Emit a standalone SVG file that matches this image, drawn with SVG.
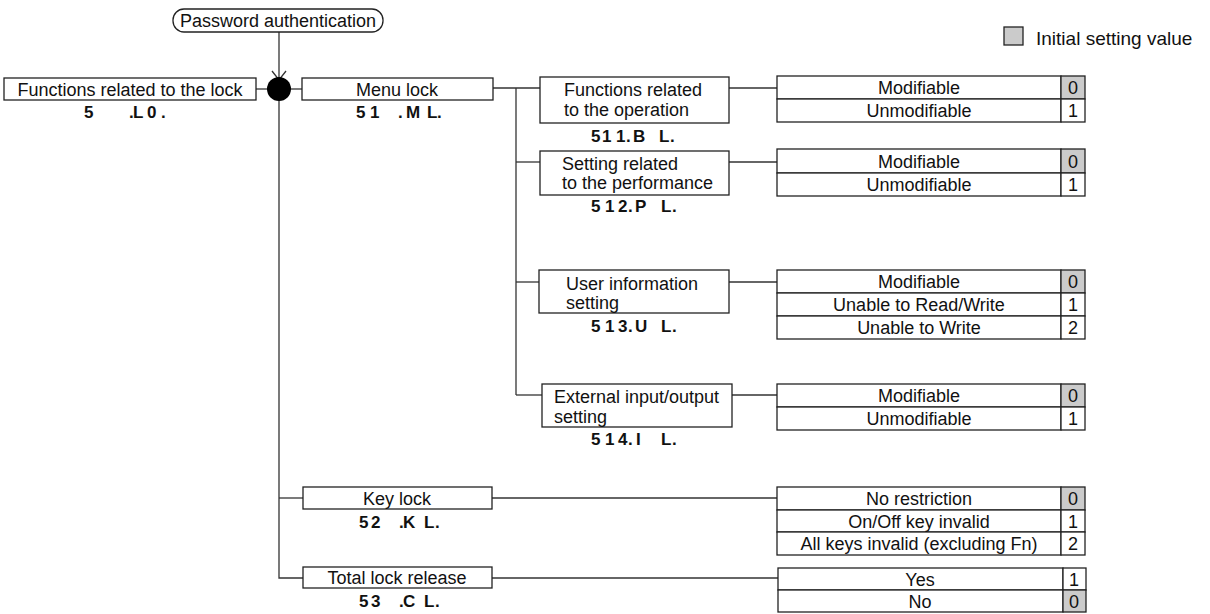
<svg xmlns="http://www.w3.org/2000/svg" width="1210" height="614" viewBox="0 0 1210 614">
<defs>
<style>
.bx{fill:#fff;stroke:#222;stroke-width:1.3}
.ln{fill:none;stroke:#333;stroke-width:1.3}
.t{font-family:"Liberation Sans",Arial,sans-serif;font-size:18px;fill:#111}
.c{text-anchor:middle}
.cd{font-family:"Liberation Sans",Arial,sans-serif;font-size:17px;font-weight:bold;fill:#111}
.g{fill:#cbcbcb;stroke:#222;stroke-width:1.3}
</style>
</defs>
<rect width="1210" height="614" fill="#fff"/>

<g id="connectors">
<line class="ln" x1="279" y1="32" x2="279" y2="80"/>
<polyline class="ln" points="272,71 279,80 286,71"/>
<line class="ln" x1="256" y1="89" x2="268" y2="89"/>
<line class="ln" x1="290" y1="89" x2="302" y2="89"/>
<polyline class="ln" points="279,100 279,578 303,578"/>
<line class="ln" x1="279" y1="498" x2="303" y2="498"/>
<line class="ln" x1="493" y1="88" x2="540" y2="88"/>
<line class="ln" x1="516" y1="88" x2="516" y2="395"/>
<line class="ln" x1="516" y1="162" x2="540" y2="162"/>
<line class="ln" x1="516" y1="282" x2="539" y2="282"/>
<line class="ln" x1="516" y1="395" x2="542" y2="395"/>
<line class="ln" x1="729" y1="88" x2="777" y2="88"/>
<line class="ln" x1="729" y1="162" x2="777" y2="162"/>
<line class="ln" x1="729" y1="282" x2="777" y2="282"/>
<line class="ln" x1="732" y1="395" x2="777" y2="395"/>
<line class="ln" x1="492" y1="498" x2="777" y2="498"/>
<line class="ln" x1="492" y1="578" x2="778" y2="578"/>
</g>

<g id="password">
<rect class="bx" x="173" y="9" width="210" height="23" rx="11"/>
<text class="t c" x="278" y="27">Password authentication</text>
</g>

<g id="junction">
<circle cx="279" cy="89" r="12" fill="#000"/>
</g>

<g id="root">
<rect class="bx" x="4" y="78" width="252" height="22"/>
<text class="t c" x="130" y="96">Functions related to the lock</text>
<text class="cd" x="84 100 129 133 145 147 161" y="118">5 .L 0.</text>
</g>

<g id="menu-lock">
<rect class="bx" x="302" y="78" width="191" height="22"/>
<text class="t c" x="397" y="96">Menu lock</text>
<text class="cd" x="356 366 370 385 398 406 420 427 437" y="118">5 1 .M L.</text>
</g>

<g id="op">
<rect class="bx" x="540" y="77" width="189" height="46"/>
<text class="t" x="564" y="96">Functions related</text>
<text class="t" x="564" y="115.5">to the operation</text>
<text class="cd" x="591 600 602 611 616 626 633 646 659 670" y="142">5 1 1.B L.</text>
</g>

<g id="perf">
<rect class="bx" x="540" y="151" width="189" height="44"/>
<text class="t" x="562" y="169.5">Setting related</text>
<text class="t" x="562" y="188.5">to the performance</text>
<text class="cd" x="591 600 605 614 618 628 635 647 661 672" y="212">5 1 2.P L.</text>
</g>

<g id="user">
<rect class="bx" x="539" y="270" width="190" height="43"/>
<text class="t" x="566" y="289.5">User information</text>
<text class="t" x="566" y="308.5">setting</text>
<text class="cd" x="591 600 605 614 618 628 635 647 661 672" y="332">5 1 3.U L.</text>
</g>

<g id="ext">
<rect class="bx" x="542" y="384" width="190" height="43"/>
<text class="t" x="554" y="403">External input/output</text>
<text class="t" x="554" y="422.5">setting</text>
<text class="cd" x="591 600 605 614 618 628 636 647 661 672" y="445">5 1 4.I L.</text>
</g>

<g id="key-lock">
<rect class="bx" x="303" y="487" width="189" height="22"/>
<text class="t c" x="397" y="505">Key lock</text>
<text class="cd" x="359 368 371 385 399 403 416 424 435" y="528">5 2 .K L.</text>
</g>

<g id="total-lock">
<rect class="bx" x="303" y="567" width="189" height="21"/>
<text class="t c" x="397" y="584">Total lock release</text>
<text class="cd" x="359 368 371 385 399 403 416 424 435" y="607">5 3 .C L.</text>
</g>

<g id="opt-op">
<rect class="bx" x="777" y="76" width="284" height="23"/>
<rect class="g" x="1061" y="76" width="24" height="23"/>
<rect class="bx" x="777" y="99" width="284" height="23"/>
<rect class="bx" x="1061" y="99" width="24" height="23"/>
<text class="t c" x="919" y="94">Modifiable</text>
<text class="t c" x="1073" y="94">0</text>
<text class="t c" x="919" y="117">Unmodifiable</text>
<text class="t c" x="1073" y="117">1</text>
</g>

<g id="opt-perf">
<rect class="bx" x="777" y="149" width="284" height="24"/>
<rect class="g" x="1061" y="149" width="24" height="24"/>
<rect class="bx" x="777" y="173" width="284" height="23"/>
<rect class="bx" x="1061" y="173" width="24" height="23"/>
<text class="t c" x="919" y="168">Modifiable</text>
<text class="t c" x="1073" y="168">0</text>
<text class="t c" x="919" y="191">Unmodifiable</text>
<text class="t c" x="1073" y="191">1</text>
</g>

<g id="opt-user">
<rect class="bx" x="777" y="270" width="284" height="23"/>
<rect class="g" x="1061" y="270" width="24" height="23"/>
<rect class="bx" x="777" y="293" width="284" height="23"/>
<rect class="bx" x="1061" y="293" width="24" height="23"/>
<rect class="bx" x="777" y="316" width="284" height="23"/>
<rect class="bx" x="1061" y="316" width="24" height="23"/>
<text class="t c" x="919" y="288">Modifiable</text>
<text class="t c" x="1073" y="288">0</text>
<text class="t c" x="919" y="311">Unable to Read/Write</text>
<text class="t c" x="1073" y="311">1</text>
<text class="t c" x="919" y="334">Unable to Write</text>
<text class="t c" x="1073" y="334">2</text>
</g>

<g id="opt-ext">
<rect class="bx" x="777" y="384" width="284" height="23"/>
<rect class="g" x="1061" y="384" width="24" height="23"/>
<rect class="bx" x="777" y="407" width="284" height="23"/>
<rect class="bx" x="1061" y="407" width="24" height="23"/>
<text class="t c" x="919" y="402">Modifiable</text>
<text class="t c" x="1073" y="402">0</text>
<text class="t c" x="919" y="425">Unmodifiable</text>
<text class="t c" x="1073" y="425">1</text>
</g>

<g id="opt-key">
<rect class="bx" x="777" y="487" width="284" height="23"/>
<rect class="g" x="1061" y="487" width="24" height="23"/>
<rect class="bx" x="777" y="510" width="284" height="22"/>
<rect class="bx" x="1061" y="510" width="24" height="22"/>
<rect class="bx" x="777" y="532" width="284" height="23"/>
<rect class="bx" x="1061" y="532" width="24" height="23"/>
<text class="t c" x="919" y="505">No restriction</text>
<text class="t c" x="1073" y="505">0</text>
<text class="t c" x="919" y="527.5">On/Off key invalid</text>
<text class="t c" x="1073" y="527.5">1</text>
<text class="t c" x="919" y="550">All keys invalid (excluding Fn)</text>
<text class="t c" x="1073" y="550">2</text>
</g>

<g id="opt-total">
<rect class="bx" x="778" y="568" width="285" height="22"/>
<rect class="bx" x="1063" y="568" width="23" height="22"/>
<rect class="bx" x="778" y="590" width="285" height="22"/>
<rect class="g" x="1063" y="590" width="23" height="22"/>
<text class="t c" x="920" y="585.5">Yes</text>
<text class="t c" x="1074" y="585.5">1</text>
<text class="t c" x="920" y="607.5">No</text>
<text class="t c" x="1074" y="607.5">0</text>
</g>

<g id="legend">
<rect class="g" x="1004" y="27" width="19" height="18"/>
<text class="t" x="1036" y="45" style="font-size:19px">Initial setting value</text>
</g>
</svg>
